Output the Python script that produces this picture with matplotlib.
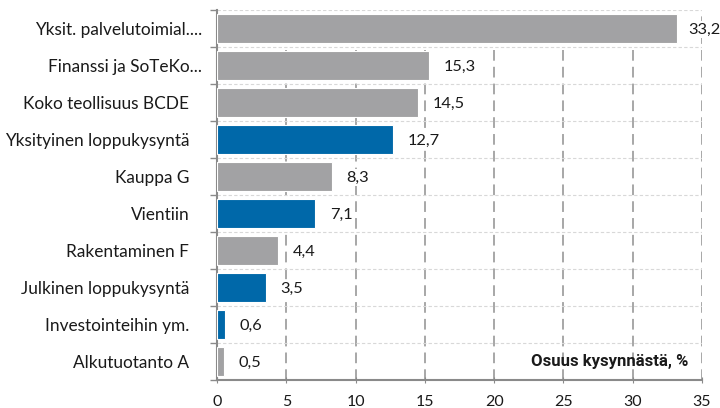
import matplotlib
matplotlib.use("Agg")
import matplotlib.pyplot as plt
from matplotlib.transforms import ScaledTranslation
import numpy as np

categories = ["Yksit. palvelutoimial....", "Finanssi ja SoTeKo...", "Koko teollisuus BCDE",
              "Yksityinen loppukysyntä", "Kauppa G", "Vientiin", "Rakentaminen F",
              "Julkinen loppukysyntä", "Investointeihin ym.", "Alkutuotanto A"]
values = [33.2, 15.3, 14.5, 12.7, 8.3, 7.1, 4.4, 3.5, 0.6, 0.5]
is_demand = [False, False, False, True, False, True, False, True, True, False]
xticks = [0, 5, 10, 15, 20, 25, 30, 35]

GREY = "#a2a2a4"
BLUE = "#0068a9"
TXT = "#1a1a1a"

plt.rcParams['font.family'] = ['Lato', 'DejaVu Sans']

fig = plt.figure(figsize=(7.2, 4.08), dpi=100)
ax = fig.add_axes([217/720, 1-380/408, (702-217)/720, 370/408])

y = np.arange(len(categories))
colors = [BLUE if d else GREY for d in is_demand]
ax.barh(y, values, height=0.76, color=colors, edgecolor="white", linewidth=0.8, zorder=3)

for yi, v in zip(y, values):
    off = 0.78 if v > 30 else 1.05
    ax.text(v + off, yi + 0.03, f"{v:.1f}".replace(".", ","), va="center", ha="left",
            fontsize=11.8, color=TXT, zorder=4,
            bbox=dict(facecolor="white", edgecolor="none", pad=1.0))

ax.set_xlim(0, 35)
ax.set_ylim(len(categories) - 0.5, -0.5)
ax.set_yticks(y)
ax.set_yticklabels(categories, fontsize=12.4, color=TXT)
ax.tick_params(axis='y', length=0, pad=20)
ax.set_xticks(xticks)
ax.set_xticklabels([str(t) for t in xticks], fontsize=11.5, color=TXT)
ax.tick_params(axis='x', length=5, color="#8a8a8a", direction="inout", pad=8)

# truncated labels hang their ellipsis past the common right edge
for lab in ax.get_yticklabels():
    if lab.get_text().endswith("..."):
        lab.set_transform(lab.get_transform() + ScaledTranslation(13/100, 0, fig.dpi_scale_trans))

# minor y ticks at category boundaries
ax.set_yticks(np.arange(-0.5, len(categories) + 0.5, 1), minor=True)
ax.tick_params(axis='y', which='minor', length=5, color="#8a8a8a", width=1)

ax.grid(axis='x', which='major', linestyle=(0, (7, 4)), color="#8f8f8f", linewidth=1.1, zorder=1)
ax.grid(axis='y', which='minor', linestyle=(0, (3, 2)), color="#d8d8d8", linewidth=0.8, zorder=1)

for s in ["top", "right"]:
    ax.spines[s].set_visible(False)
for s in ["left", "bottom"]:
    ax.spines[s].set_color("#8a8a8a")
    ax.spines[s].set_linewidth(1.5)

ax.text(0.971, 0.03, "Osuus kysynnästä, %", transform=ax.transAxes, ha="right", va="bottom",
        fontsize=12, fontweight="bold", color=TXT, zorder=5,
        family=['Roboto', 'DejaVu Sans'])

fig.savefig("out.png", dpi=100)
